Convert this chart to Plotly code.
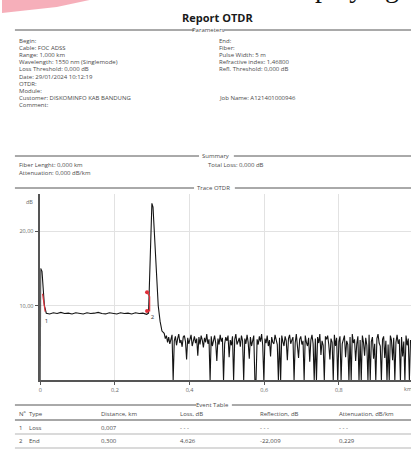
import plotly.graph_objects as go

# ---------------- data ----------------
# OTDR trace: launch / fibre / end reflection
trace_km = [0.0, 0.001, 0.0045, 0.008, 0.011, 0.016,
            0.025, 0.035, 0.045, 0.055, 0.065, 0.075, 0.085, 0.095, 0.105, 0.115,
            0.125, 0.135, 0.145, 0.155, 0.165, 0.175, 0.185, 0.195, 0.205, 0.215,
            0.225, 0.235, 0.245, 0.255, 0.265, 0.275, 0.285, 0.290,
            0.294, 0.297, 0.299, 0.302, 0.306, 0.311, 0.316, 0.321, 0.326]
trace_db = [0.0, 15.0, 14.6, 12.2, 10.0, 9.0,
            8.9, 9.05, 8.95, 9.1, 8.95, 9.0, 8.9, 9.05, 9.0, 8.9,
            9.05, 8.95, 9.0, 9.1, 8.95, 8.9, 9.05, 9.0, 8.9, 9.05,
            8.95, 9.0, 8.9, 9.05, 8.95, 9.0, 8.85, 9.0,
            15.0, 21.5, 23.7, 23.2, 19.5, 14.5, 10.0, 7.9, 6.6]

# noise floor after the fibre end (sampled every noise_step km)
noise_start_km = 0.332
noise_step_km = 0.003
noise_db = [
    6.3, 5.6, 6.0, 5.1, 5.8, 4.9, 5.5, 6.1, 0.0, 5.3,
    5.9, 4.7, 5.6, 6.2, 5.0, 5.4, 4.5, 5.8, 6.0, 5.2,
    2.8, 5.7, 4.9, 5.5, 6.1, 4.6, 5.3, 5.9, 5.0, 5.6,
    3.3, 5.8, 4.8, 6.0, 5.4, 4.4, 5.7, 5.1, 6.2, 4.9,
    5.5, 0.0, 5.9, 4.6, 5.3, 6.0, 5.0, 2.6, 5.6, 4.8,
    6.1, 5.2, 5.7, 0.0, 4.9, 5.8, 5.3, 6.0, 3.1, 5.4,
    4.7, 5.9, 0.0, 5.5, 6.2, 4.8, 5.2, 5.7, 4.5, 6.0,
    5.3, 0.0, 5.6, 4.9, 6.1, 5.1, 2.9, 5.8, 4.6, 5.4,
    6.0, 0.0, 0.0, 5.5, 4.8, 5.9, 5.2, 6.2, 4.7, 0.0,
    5.6, 5.0, 6.0, 4.6, 5.4, 3.2, 5.8, 5.1, 4.9, 6.1,
    5.5, 4.8, 0.0, 5.7, 0.0, 6.0, 5.2, 4.6, 5.9, 5.3,
    2.7, 5.6, 6.1, 4.9, 5.4, 5.8, 0.0, 5.0, 6.2, 4.7,
    3.0, 5.5, 5.9, 4.8, 5.3, 0.0, 6.0, 5.1, 4.6, 5.7,
    2.5, 5.4, 6.1, 4.9, 0.0, 5.6, 0.0, 5.8, 5.0, 6.2,
    3.4, 5.3, 4.7, 0.0, 5.9, 5.5, 6.0, 4.8, 2.8, 5.6,
    5.1, 0.0, 6.1, 4.6, 5.7, 0.0, 5.2, 5.9, 0.0, 4.9,
    5.6, 6.0, 3.1, 5.3, 4.8, 0.0, 5.8, 0.0, 6.2, 5.0,
    5.5, 2.6, 4.9, 5.9, 0.0, 5.4, 0.0, 6.0, 5.1, 3.3,
    5.7, 4.7, 0.0, 6.1, 0.0, 5.2, 5.8, 2.9, 4.9, 0.0,
    5.6, 6.2, 5.0, 4.6, 0.0, 5.5, 5.9, 3.0, 5.3, 0.0,
    4.8, 0.0, 6.0, 5.4, 2.7, 5.7, 0.0, 5.1, 6.1, 4.9,
    5.5, 0.0, 5.8, 3.2, 5.2, 0.0, 6.0, 4.7, 5.6, 0.0,
    5.4,
]

# event markers
event1_km = [0.006, 0.013]
event1_db = [11.6, 9.2]
event2_km = [0.286, 0.293, 0.293, 0.286]
event2_db = [11.8, 11.2, 9.3, 9.3]
event2_dot_km = [0.286, 0.286]
event2_dot_db = [11.8, 9.3]
event_label_km = [0.012, 0.296]
event_label_db = [7.9, 8.4]
event_labels = ["1", "2"]

x_tick_vals = [0, 0.2, 0.4, 0.6, 0.8]
x_tick_text = ["0", "0,2", "0,4", "0,6", "0,8"]
y_tick_vals = [10, 20]
y_tick_text = ["10,00", "20,00"]

# report texts
param_left = ["Begin:", "Cable: FOC ADSS", "Range: 1,000 km",
              "Wavelength: 1550 nm (Singlemode)", "Loss Threshold: 0,000 dB",
              "Date: 29/01/2024 10:12:19", "OTDR:", "Module:",
              "Customer: DISKOMINFO KAB BANDUNG", "Comment:"]
param_right = ["End:", "Fiber:", "Pulse Width: 5 m", "Refractive index: 1,46800",
               "Refl. Threshold: 0,000 dB", "", "", "", "Job Name: A121401000946", ""]
summary_left = ["Fiber Lenght: 0,000 km", "Attenuation: 0,000 dB/km"]
summary_right = ["Total Loss: 0,000 dB", ""]

table_header = ["Nº  Type", "Distance, km", "Loss, dB", "Reflection, dB", "Attenuation, dB/km"]
event_no = ["1", "2"]
event_type = ["Loss", "End"]
event_distance = ["0,007", "0,300"]
event_loss = ["- - -", "4,626"]
event_reflection = ["- - -", "-22,009"]
event_attenuation = ["- - -", "0,229"]

# ---------------- layout helpers ----------------
W, H = 411, 450
FONT = "Open Sans"
TXT = "#4a4a4a"


def fx(p):
    return p / W


def fy(p):
    return 1 - p / H


noise_km = [noise_start_km + i * noise_step_km for i in range(len(noise_db))]

fig = go.Figure()
fig.add_trace(go.Scatter(x=trace_km + noise_km, y=trace_db + noise_db, mode="lines",
                         line=dict(color="#141414", width=1.1), hoverinfo="skip"))
fig.add_trace(go.Scatter(x=event1_km, y=event1_db, mode="lines",
                         line=dict(color="#e0303a", width=1.2)))
fig.add_trace(go.Scatter(x=event2_km, y=event2_db, mode="lines",
                         line=dict(color="#e0303a", width=1.2)))
fig.add_trace(go.Scatter(x=event2_dot_km, y=event2_dot_db, mode="markers",
                         marker=dict(color="#e0303a", size=4)))
fig.add_trace(go.Scatter(x=event_label_km, y=event_label_db, mode="text", text=event_labels,
                         textposition="middle right",
                         textfont=dict(family=FONT, size=6, color="#333")))

shapes = []
annotations = []


def text(x, y, s, size=6, anchor="left", color=TXT, bold=False, family=FONT):
    if bold:
        s = "<b>" + s + "</b>"
    annotations.append(dict(x=fx(x), y=fy(y), xref="paper", yref="paper", text=s,
                            showarrow=False, xanchor=anchor, yanchor="middle",
                            font=dict(family=family, size=size, color=color)))


def hline(x0, x1, y, color="#555", width=1):
    shapes.append(dict(type="line", xref="paper", yref="paper",
                       x0=fx(x0), x1=fx(x1), y0=fy(y), y1=fy(y),
                       line=dict(color=color, width=width)))


def section(y, label, cx, gap0, gap1):
    hline(13, gap0, y)
    hline(gap1, W, y)
    text(cx, y, label, size=6, anchor="center")


# pink smear + cut-off background text at top
shapes.append(dict(type="path", xref="paper", yref="paper",
                   path="M {},{} L {},{} L {},{} L {},{} Z".format(
                       fx(0), fy(0), fx(88), fy(0), fx(55), fy(7), fx(0), fy(13)),
                   fillcolor="rgba(238,110,130,0.55)", line=dict(width=0)))
annotations.append(dict(x=fx(313), y=fy(4.5), xref="paper", yref="paper", text="playing",
                        showarrow=False, xanchor="left", yanchor="bottom",
                        font=dict(family="Liberation Serif", size=28, color="#111")))

text(217, 17, "Report OTDR", size=11, anchor="center", color="#1a1a1a", bold=True)

section(30, "Parameters", 208, 193, 223)
row_y = [41, 48, 55, 62.5, 69.5, 76.5, 83.5, 90.5, 98, 105]
for y, l, r in zip(row_y, param_left, param_right):
    text(15, y, l)
    if r:
        text(216, y, r)

section(156, "Summary", 215, 198, 233)
text(15, 165, summary_left[0])
text(205, 165, summary_right[0])
text(15, 173, summary_left[1])

section(188, "Trace OTDR", 213, 193, 234)

# event table
section(405, "Event Table", 212, 195, 231)
col_x = [15, 97, 177, 257, 337]
for x, h in zip(col_x, table_header):
    text(x, 413.5, h)
hline(13, W, 420, color="#8a8a8a", width=1.6)
for i, ry in enumerate([427.5, 441]):
    text(15, ry, event_no[i])
    text(25, ry, event_type[i])
    text(col_x[1], ry, event_distance[i])
    text(col_x[2], ry, event_loss[i])
    text(col_x[3], ry, event_reflection[i])
    text(col_x[4], ry, event_attenuation[i])
hline(13, W, 434, color="#b5b5b5", width=1)
hline(13, W, 448, color="#b5b5b5", width=1)

# chart extras
text(28, 202, "dB", size=5.5, anchor="center", color="#666")
text(408, 389, "km", size=5.5, anchor="center", color="#666")

x0_px = 38.5
px_per_km = 375.0
y0_px = 380.4
px_per_db = 7.47
x_range = [0, (W - x0_px) / px_per_km]
y_top_px = 193.5
y_range = [0, (y0_px - y_top_px) / px_per_db]

fig.update_layout(
    width=W, height=H, margin=dict(l=0, r=0, t=0, b=0),
    paper_bgcolor="white", plot_bgcolor="white", showlegend=False,
    shapes=shapes, annotations=annotations,
    xaxis=dict(domain=[fx(x0_px), 1], range=x_range, showgrid=True, gridcolor="#e2e2e2",
               gridwidth=1, zeroline=False, showline=True, linecolor="#555", linewidth=1.5,
               ticks="outside", ticklen=3, tickcolor="#555", tickvals=x_tick_vals,
               ticktext=x_tick_text, tickfont=dict(family=FONT, size=5.5, color="#666")),
    yaxis=dict(domain=[fy(y0_px), fy(y_top_px)], range=y_range, showgrid=True,
               gridcolor="#e2e2e2", gridwidth=1, zeroline=False, showline=True,
               linecolor="#555", linewidth=1.5, ticks="outside", ticklen=4, tickcolor="#555",
               tickvals=y_tick_vals, ticktext=y_tick_text,
               tickfont=dict(family=FONT, size=5.5, color="#666")),
)

fig.write_html("out.html", config={"displayModeBar": False},
               post_script="document.body.style.margin='0';")
